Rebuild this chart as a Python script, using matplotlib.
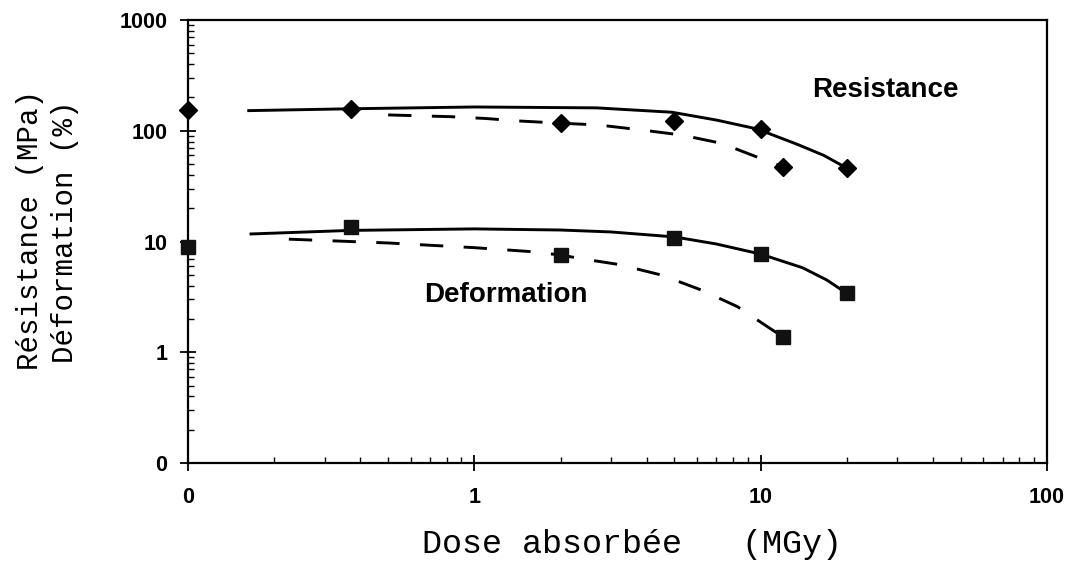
"""Resistance / deformation vs absorbed dose (log-log), scanned-figure look."""

import matplotlib

matplotlib.use("Agg")
import matplotlib.pyplot as plt
import numpy as np
from matplotlib.ticker import FixedLocator, FixedFormatter, LogLocator, NullFormatter

# Dose 0 cannot sit on a log axis: it is drawn at the axis origin (0.1), labelled "0".
ZERO_POS = 0.1

# Measured points (MGy, MPa or %)
res_solid_dose = [0, 0.37, 5, 10, 20]
res_solid = [154, 157, 122, 104, 46]
res_dashed_dose = [2, 12]
res_dashed = [117, 47]

def_solid_dose = [0, 0.37, 5, 10, 20]
def_solid = [8.9, 13.5, 10.7, 7.7, 3.4]
def_dashed_dose = [2, 12]
def_dashed = [7.55, 1.37]

# Fitted curves
res_fit_dose = [0.163, 0.37, 1.0, 2.67, 4.9, 7.0, 9.7, 13.5, 16.6, 20]
res_fit = [152, 158, 164, 161, 147, 125, 104, 75, 60, 46]
res_fit2_dose = [0.5, 0.83, 1.1, 1.4, 2.0, 2.7, 3.8, 5.3, 7.3, 9.7, 12]
res_fit2 = [139, 134, 129, 123, 117, 113, 102, 91.5, 77, 58, 47]

def_fit_dose = [0.166, 0.37, 1.0, 2.0, 3.0, 5.0, 7.0, 10, 14, 17, 20]
def_fit = [11.7, 12.6, 13.0, 12.7, 12.2, 11.0, 9.5, 7.7, 5.8, 4.5, 3.4]
def_fit2_dose = [0.225, 0.5, 1.0, 1.58, 2.0, 2.4, 3.2, 4.5, 6.2, 8.3, 10.6, 12]
def_fit2 = [10.5, 9.7, 8.8, 8.1, 7.55, 6.95, 6.2, 4.98, 3.65, 2.58, 1.69, 1.37]

x_ticks = [0.1, 1, 10, 100]
x_labels = ["0", "1", "10", "100"]
y_ticks = [0.1, 1, 10, 100, 1000]
y_labels = ["0", "1", "10", "100", "1000"]


def dose_pos(d):
    d = np.asarray(d, dtype=float)
    return np.where(d == 0, ZERO_POS, d)


fig = plt.figure(figsize=(10.70, 5.61), dpi=100)
ax = fig.add_axes([0.1757, 0.1747, 0.8028, 0.7896])
ax.set_xscale("log")
ax.set_yscale("log")
ax.set_xlim(0.1, 100)
ax.set_ylim(0.1, 1000)

lw = 2.1
dash = (0, (8, 7))
ax.plot(res_fit_dose, res_fit, color="black", lw=lw)
ax.plot(res_fit2_dose, res_fit2, color="black", lw=lw, linestyle=dash)
ax.plot(def_fit_dose, def_fit, color="black", lw=lw)
ax.plot(def_fit2_dose, def_fit2, color="black", lw=lw, linestyle=dash)

for d, v in [(res_solid_dose, res_solid), (res_dashed_dose, res_dashed)]:
    ax.plot(dose_pos(d), v, linestyle="none", marker="D", ms=9.5,
            color="black", clip_on=False, zorder=5)
for d, v in [(def_solid_dose, def_solid), (def_dashed_dose, def_dashed)]:
    ax.plot(dose_pos(d), v, linestyle="none", marker="s", ms=10.5,
            color="#111111", clip_on=False, zorder=5)

ax.text(15.1, 202, "Resistance", fontsize=20, fontweight="bold",
        family="Liberation Sans", ha="left", va="baseline")
ax.text(0.668, 2.85, "Deformation", fontsize=20, fontweight="bold",
        family="Liberation Sans", ha="left", va="baseline")

# ticks: major cross the axis, minor point inward
for axis, ticks, labels in [(ax.xaxis, x_ticks, x_labels), (ax.yaxis, y_ticks, y_labels)]:
    axis.set_major_locator(FixedLocator(ticks))
    axis.set_major_formatter(FixedFormatter(labels))
    axis.set_minor_locator(LogLocator(base=10, subs=np.arange(2, 10), numticks=20))
    axis.set_minor_formatter(NullFormatter())

ax.tick_params(which="major", direction="inout", length=12, width=1.3,
               top=False, right=False)
ax.tick_params(which="minor", direction="in", length=4.5, width=1.0,
               top=False, right=False)
ax.tick_params(axis="x", which="major", pad=11)
ax.tick_params(axis="y", which="major", pad=9)
for lab in ax.get_xticklabels() + ax.get_yticklabels():
    lab.set_fontfamily("Liberation Sans")
    lab.set_fontweight("bold")
    lab.set_fontsize(15.5)

for sp in ax.spines.values():
    sp.set_linewidth(1.6)

fig.text(632 / 1070, 1 - 545 / 561, "Dose absorbée   (MGy)", family="Liberation Mono",
         fontsize=24, ha="center", va="center")
fig.text(30 / 1070, 1 - 230 / 561, "Résistance (MPa)", family="Liberation Mono",
         fontsize=21, rotation=90, ha="center", va="center")
fig.text(65 / 1070, 1 - 232 / 561, "Déformation (%)", family="Liberation Mono",
         fontsize=21, rotation=90, ha="center", va="center")

fig.savefig("out.png", dpi=100, facecolor="white")
